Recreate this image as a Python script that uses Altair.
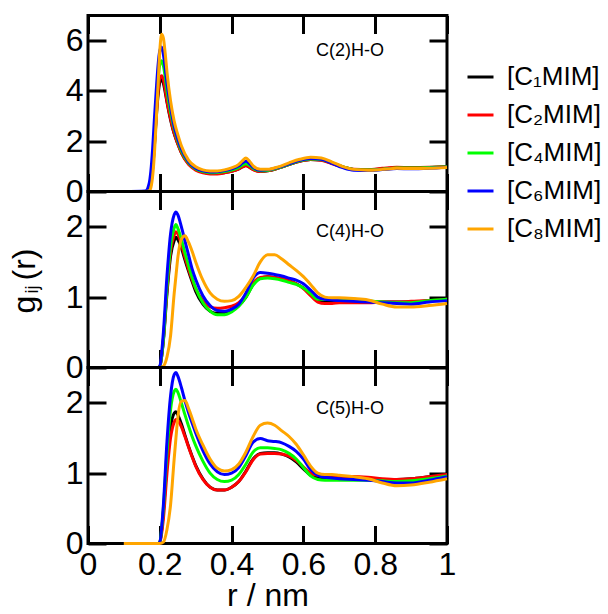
import altair as alt
import pandas as pd

FONT = "Liberation Sans"

series_names = ["[C₁MIM]", "[C₂MIM]", "[C₄MIM]", "[C₆MIM]", "[C₈MIM]"]
series_colors = ["#000000", "#ff0000", "#00ff00", "#0000ff", "#ffa500"]

# ---- panel 1 : C(2)H-O ----
r1 = [0.10, 0.16, 0.17, 0.175, 0.18, 0.185, 0.19, 0.195, 0.20, 0.205, 0.21, 0.215, 0.22, 0.23, 0.24,
      0.25, 0.26, 0.28, 0.30, 0.32, 0.34, 0.36, 0.38, 0.40, 0.42, 0.43, 0.44, 0.45, 0.46, 0.48,
      0.50, 0.53, 0.56, 0.59, 0.62, 0.65, 0.68, 0.71, 0.74, 0.78, 0.82, 0.86, 0.90, 0.95, 1.0]
p1_c1 = [0, 0, 0.05, 0.3, 0.9, 1.8, 2.9, 3.8, 4.35, 4.45, 4.3, 3.95, 3.55, 2.85, 2.3,
         1.9, 1.55, 1.1, 0.88, 0.77, 0.72, 0.72, 0.75, 0.8, 0.9, 0.98, 1.03, 0.97, 0.88, 0.8,
         0.82, 0.93, 1.07, 1.2, 1.27, 1.25, 1.12, 0.98, 0.88, 0.86, 0.9, 0.94, 0.93, 0.95, 0.98]
p1_c2 = [0, 0, 0.05, 0.3, 0.95, 1.9, 3.0, 3.95, 4.5, 4.6, 4.45, 4.05, 3.6, 2.9, 2.32,
         1.9, 1.55, 1.08, 0.85, 0.74, 0.7, 0.7, 0.74, 0.8, 0.9, 0.98, 1.02, 0.96, 0.87, 0.8,
         0.82, 0.93, 1.07, 1.2, 1.27, 1.24, 1.1, 0.97, 0.88, 0.87, 0.92, 0.96, 0.95, 0.96, 0.99]
p1_c4 = [0, 0, 0.06, 0.35, 1.05, 2.1, 3.3, 4.4, 5.05, 5.2, 5.0, 4.55, 4.0, 3.15, 2.5,
         2.02, 1.62, 1.14, 0.9, 0.79, 0.75, 0.76, 0.79, 0.85, 0.96, 1.05, 1.1, 1.03, 0.92, 0.83,
         0.84, 0.94, 1.08, 1.22, 1.29, 1.27, 1.14, 0.98, 0.88, 0.86, 0.89, 0.93, 0.93, 0.95, 0.98]
p1_c6 = [0, 0.02, 0.3, 0.8, 1.7, 2.9, 4.0, 5.0, 5.6, 5.75, 5.45, 4.9, 4.3, 3.35, 2.6,
         2.1, 1.7, 1.18, 0.93, 0.82, 0.78, 0.79, 0.83, 0.9, 1.02, 1.13, 1.2, 1.1, 0.96, 0.85,
         0.86, 0.96, 1.1, 1.24, 1.31, 1.28, 1.12, 0.95, 0.85, 0.84, 0.87, 0.91, 0.9, 0.92, 0.96]
p1_c8 = [0, 0, 0.02, 0.15, 0.6, 1.5, 2.8, 4.2, 5.6, 6.25, 6.1, 5.5, 4.75, 3.6, 2.8,
         2.27, 1.82, 1.25, 0.98, 0.86, 0.82, 0.82, 0.86, 0.94, 1.08, 1.22, 1.33, 1.2, 1.02, 0.88,
         0.88, 0.98, 1.14, 1.28, 1.36, 1.33, 1.17, 0.99, 0.88, 0.85, 0.88, 0.92, 0.91, 0.92, 0.95]

# ---- panels 2 and 3 share this r grid ----
r2 = [0.10, 0.195, 0.20, 0.21, 0.22, 0.23, 0.24, 0.245, 0.25, 0.26, 0.27, 0.28, 0.29, 0.30,
      0.32, 0.34, 0.36, 0.38, 0.40, 0.42, 0.44, 0.46, 0.48, 0.50, 0.52, 0.54, 0.56, 0.58,
      0.60, 0.62, 0.64, 0.66, 0.68, 0.70, 0.74, 0.78, 0.82, 0.86, 0.90, 0.95, 1.0]

# C(4)H-O
p2_c1 = [0, 0, 0.01, 0.38, 1.05, 1.58, 1.8, 1.85, 1.82, 1.7, 1.53, 1.37, 1.22, 1.08,
         0.9, 0.8, 0.77, 0.78, 0.81, 0.88, 1.0, 1.18, 1.27, 1.29, 1.28, 1.26, 1.23, 1.19,
         1.13, 1.04, 0.95, 0.93, 0.93, 0.93, 0.93, 0.93, 0.93, 0.93, 0.93, 0.95, 0.97]
p2_c2 = [0, 0, 0.01, 0.4, 1.1, 1.65, 1.88, 1.93, 1.9, 1.75, 1.57, 1.4, 1.25, 1.12,
         0.95, 0.86, 0.84, 0.85, 0.87, 0.92, 1.03, 1.2, 1.28, 1.29, 1.28, 1.26, 1.23, 1.19,
         1.12, 1.02, 0.93, 0.91, 0.91, 0.92, 0.92, 0.92, 0.93, 0.93, 0.94, 0.95, 0.97]
p2_c4 = [0, 0, 0.01, 0.4, 1.15, 1.72, 1.98, 2.03, 1.98, 1.82, 1.63, 1.45, 1.28, 1.13,
         0.92, 0.8, 0.75, 0.75, 0.79, 0.87, 1.0, 1.17, 1.26, 1.27, 1.26, 1.24, 1.21, 1.18,
         1.13, 1.05, 0.97, 0.97, 0.98, 0.98, 0.97, 0.95, 0.93, 0.92, 0.92, 0.95, 0.97]
p2_c6 = [0, 0, 0.02, 0.5, 1.3, 1.9, 2.17, 2.21, 2.17, 2.0, 1.8, 1.6, 1.4, 1.25,
         1.02, 0.88, 0.81, 0.8, 0.83, 0.9, 1.06, 1.27, 1.35, 1.34, 1.32, 1.3, 1.27, 1.24,
         1.19, 1.1, 1.0, 0.97, 0.96, 0.95, 0.94, 0.93, 0.92, 0.91, 0.9, 0.93, 0.95]
p2_c8 = [0, 0, 0, 0.02, 0.15, 0.45, 1.05, 1.3, 1.55, 1.82, 1.87, 1.78, 1.65, 1.5,
         1.24, 1.06, 0.97, 0.94, 0.95, 1.01, 1.14, 1.3, 1.5, 1.6, 1.6, 1.54, 1.46, 1.38,
         1.29, 1.18, 1.06, 1.0, 0.99, 0.99, 0.98, 0.96, 0.9, 0.86, 0.86, 0.88, 0.91]

# C(5)H-O
p3_c1 = [0, 0, 0.02, 0.45, 1.15, 1.65, 1.85, 1.87, 1.83, 1.7, 1.54, 1.38, 1.24, 1.11,
         0.92, 0.8, 0.76, 0.76, 0.8, 0.88, 1.03, 1.2, 1.28, 1.29, 1.29, 1.27, 1.23, 1.16,
         1.06, 0.97, 0.94, 0.93, 0.93, 0.93, 0.93, 0.92, 0.91, 0.91, 0.92, 0.95, 0.98]
p3_c2 = [0, 0, 0.01, 0.35, 1.0, 1.5, 1.72, 1.76, 1.75, 1.66, 1.52, 1.37, 1.23, 1.1,
         0.91, 0.8, 0.76, 0.76, 0.8, 0.88, 1.02, 1.19, 1.27, 1.28, 1.28, 1.27, 1.24, 1.18,
         1.09, 1.0, 0.97, 0.96, 0.95, 0.95, 0.95, 0.94, 0.92, 0.91, 0.92, 0.95, 0.98]
p3_c4 = [0, 0, 0.02, 0.5, 1.3, 1.9, 2.16, 2.19, 2.15, 2.0, 1.83, 1.67, 1.52, 1.39,
         1.17, 1.0, 0.91, 0.88, 0.9, 0.98, 1.13, 1.3, 1.36, 1.36, 1.35, 1.33, 1.28, 1.2,
         1.08, 0.96, 0.91, 0.9, 0.9, 0.9, 0.9, 0.9, 0.89, 0.88, 0.89, 0.92, 0.96]
p3_c6 = [0, 0, 0.02, 0.55, 1.45, 2.1, 2.4, 2.43, 2.38, 2.22, 2.03, 1.86, 1.71, 1.57,
         1.32, 1.13, 1.02, 0.98, 1.0, 1.08, 1.25, 1.44, 1.49, 1.46, 1.45, 1.43, 1.38, 1.31,
         1.2, 1.05, 0.97, 0.94, 0.93, 0.92, 0.91, 0.9, 0.88, 0.86, 0.86, 0.9, 0.95]
p3_c8 = [0, 0, 0, 0.02, 0.2, 0.55, 1.2, 1.5, 1.78, 2.02, 2.03, 1.92, 1.78, 1.63,
         1.4, 1.2, 1.07, 1.03, 1.05, 1.13, 1.3, 1.52, 1.68, 1.71, 1.68, 1.6, 1.52, 1.41,
         1.26, 1.1, 1.0, 0.98, 0.98, 0.97, 0.95, 0.92, 0.86, 0.82, 0.83, 0.87, 0.92]

panel_labels = ["C(2)H-O", "C(4)H-O", "C(5)H-O"]
label_r = [0.73, 0.73, 0.73]
label_g = [5.57, 1.92, 1.91]
y_domains = [[0, 7], [0, 2.5], [0, 2.5]]
y_ticks = [[0, 2, 4, 6], [0, 1, 2], [0, 1, 2]]
x_ticks = [0, 0.2, 0.4, 0.6, 0.8, 1]
ytitle_parts = ["g", "ij", "(r)"]

W, H = 359, 176
TICK = 18


def make_df(r, lists):
    rows = []
    for k, (name, vals) in enumerate(zip(series_names, lists)):
        for rv, gv in zip(r, vals):
            rows.append({"r": rv, "g": gv, "series": name, "k": k})
    return pd.DataFrame(rows)


dfs = [
    make_df(r1, [p1_c1, p1_c2, p1_c4, p1_c6, p1_c8]),
    make_df(r2, [p2_c1, p2_c2, p2_c4, p2_c6, p2_c8]),
    make_df(r2, [p3_c1, p3_c2, p3_c4, p3_c6, p3_c8]),
]

common = dict(offset=-TICK, tickSize=TICK, tickWidth=3, tickColor="black",
              domain=False, grid=False, labelFlush=False)


def panel(i):
    df = dfs[i]
    bottom = i == 2
    sx = alt.Scale(domain=[0, 1], nice=False, zero=False)
    sy = alt.Scale(domain=y_domains[i], nice=False, zero=False)
    if i == 0:
        legend = alt.Legend(title=None, orient="none", legendX=378, legendY=47,
                            symbolType="stroke", symbolSize=676, symbolStrokeWidth=3,
                            labelFont=FONT, labelFontSize=26, labelColor="black",
                            labelOffset=12, rowPadding=10, padding=0, labelLimit=300)
    else:
        legend = None
    color = alt.Color("series:N", sort=series_names,
                      scale=alt.Scale(domain=series_names, range=series_colors),
                      legend=legend)
    x_bottom = alt.Axis(orient="bottom", values=x_ticks, format="~g", labels=bottom,
                        title="r / nm" if bottom else None,
                        labelFont=FONT, labelFontSize=32, labelPadding=6, labelColor="black",
                        titleFont=FONT, titleFontSize=32, titleFontWeight="normal",
                        titlePadding=0, titleColor="black", **common)
    y_left = alt.Axis(orient="left", values=y_ticks[i], format="~g", title=None,
                      labelFont=FONT, labelFontSize=32, labelPadding=5, labelColor="black",
                      **common)
    x_top = alt.Axis(orient="top", values=x_ticks, labels=False, title=None, **common)
    y_right = alt.Axis(orient="right", values=y_ticks[i], labels=False, title=None, **common)

    mirror = alt.Chart(df).mark_line(strokeOpacity=0).encode(
        x=alt.X("r:Q", scale=sx, axis=x_top),
        y=alt.Y("g:Q", scale=sy, axis=y_right),
        detail="series:N",
    )
    lines = alt.Chart(df).mark_line(strokeWidth=3, interpolate="monotone").encode(
        x=alt.X("r:Q", scale=sx, axis=x_bottom),
        y=alt.Y("g:Q", scale=sy, axis=y_left),
        color=color,
    )
    lab_df = pd.DataFrame({"r": [label_r[i]], "g": [label_g[i]], "t": [panel_labels[i]]})
    lab = alt.Chart(lab_df).mark_text(font=FONT, fontSize=18, align="center",
                                      baseline="middle", color="black").encode(
        x=alt.X("r:Q", scale=sx, axis=None),
        y=alt.Y("g:Q", scale=sy, axis=None),
        text="t:N",
    )
    layers = [mirror, lines, lab]
    if i == 1:
        specs = [(ytitle_parts[0], 32, -53, 122),
                 (ytitle_parts[1], 18, -50, 102),
                 (ytitle_parts[2], 32, -53, 89)]
        for txt, fs, xv, yv in specs:
            layers.append(
                alt.Chart(pd.DataFrame({"t": [txt]})).mark_text(
                    font=FONT, fontSize=fs, angle=270, align="left",
                    baseline="alphabetic", color="black").encode(
                    x=alt.value(xv), y=alt.value(yv), text="t:N")
            )
    return alt.layer(*layers).resolve_axis(x="independent", y="independent").properties(
        width=W, height=H)


chart = alt.vconcat(panel(0), panel(1), panel(2), spacing=0, bounds="flush").resolve_legend(
    color="independent"
).properties(
    padding={"left": 7, "top": 12.5, "right": 0, "bottom": 0},
    background="white",
).configure_view(stroke="black", strokeWidth=3)

chart.save("out.html", embed_options={"renderer": "svg", "actions": False})
